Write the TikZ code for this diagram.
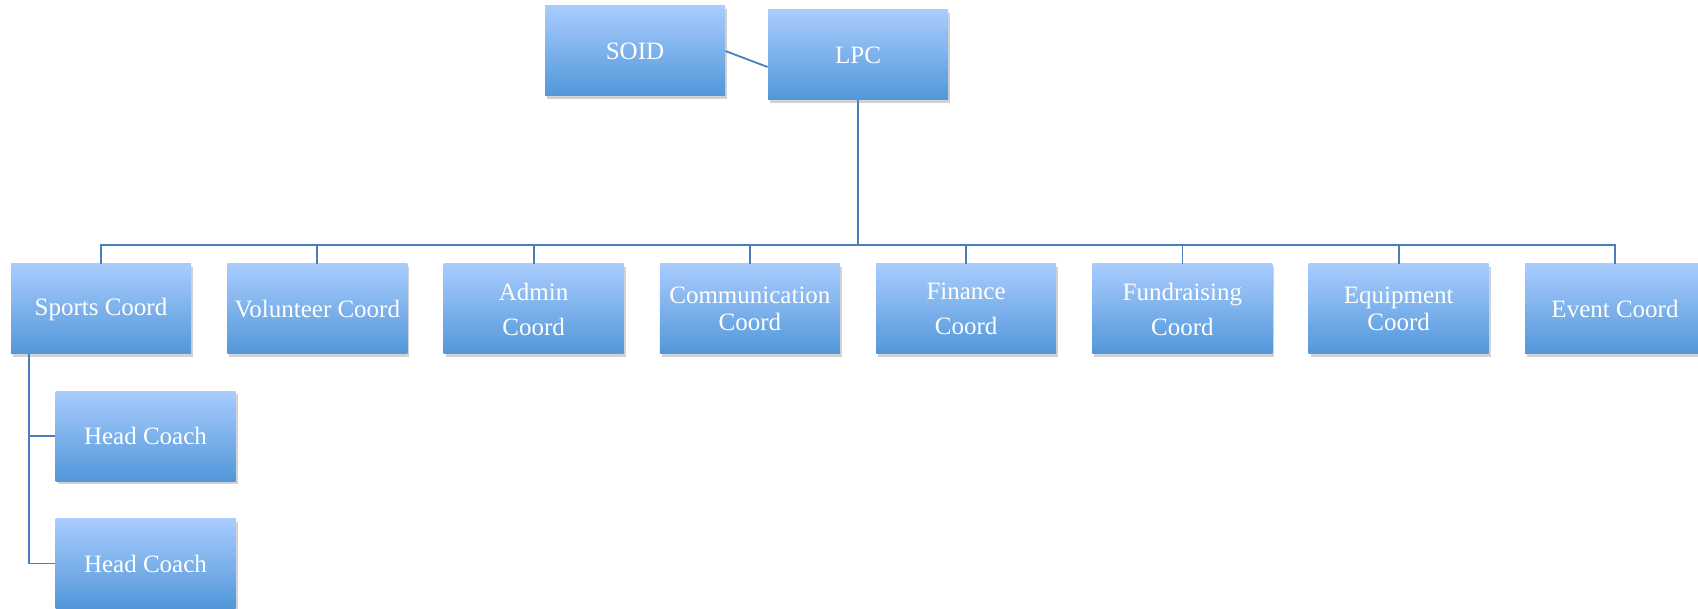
\documentclass[tikz,border=0pt]{standalone}
\usepackage{fontspec}
\setmainfont{Liberation Serif}
\usetikzlibrary{shadows}

\definecolor{boxtop}{HTML}{A9CCFD}
\definecolor{boxbot}{HTML}{5197DA}
\definecolor{linkblue}{HTML}{4A7EBB}

\tikzset{
  unit/.style={rectangle, minimum width=90pt, minimum height=45pt, inner sep=1pt,
    top color=boxtop, bottom color=boxbot, draw=none,
    text=white, align=center, font=\fontsize{12.5}{13.5}\selectfont,
    drop shadow={shadow xshift=1pt, shadow yshift=-1.5pt, opacity=.25, fill=black!70}},
  link/.style={draw=linkblue, line width=0.9pt}
}

\begin{document}
\begin{tikzpicture}[x=0.5pt, y=-0.5pt]
    \useasboundingbox (0,0) rectangle (1698,609);
    \node[unit] (soid) at (635, 51) {SOID};
    \node[unit] (lpc) at (858, 55) {LPC};
    \node[unit] (sports) at (101, 309) {Sports Coord};
    \node[unit] (vol) at (317.3, 309) {Volunteer Coord};
    \node[unit] (admin) at (533.6, 309) {Admin\\[4pt]Coord};
    \node[unit] (comm) at (749.9, 309) {Communication\\Coord};
    \node[unit] (fin) at (966.1, 309) {Finance\\[4pt]Coord};
    \node[unit] (fund) at (1182.4, 309) {Fundraising\\[4pt]Coord};
    \node[unit] (equip) at (1398.7, 309) {Equipment\\Coord};
    \node[unit] (event) at (1615, 309) {Event Coord};
    \node[unit] (hca) at (145.5, 436) {Head Coach};
    \node[unit] (hcb) at (145.5, 563.5) {Head Coach};
    \coordinate (bus) at (858, 245);
    \coordinate (sp) at (29, 354);
    \draw [link] (soid.east) -- ([yshift=-6pt]lpc.west);
    \draw [link] (lpc.south) -- (bus);
    \draw [link] (bus) -| (sports.north);
    \draw [link] (bus) -| (vol.north);
    \draw [link] (bus) -| (admin.north);
    \draw [link] (bus) -| (comm.north);
    \draw [link] (bus) -| (fin.north);
    \draw [link] (bus) -| (fund.north);
    \draw [link] (bus) -| (equip.north);
    \draw [link] (bus) -| (event.north);
    \draw [link] (sp) |- (hca.west);
    \draw [link] (sp) |- (hcb.west);
\end{tikzpicture}
\end{document}
